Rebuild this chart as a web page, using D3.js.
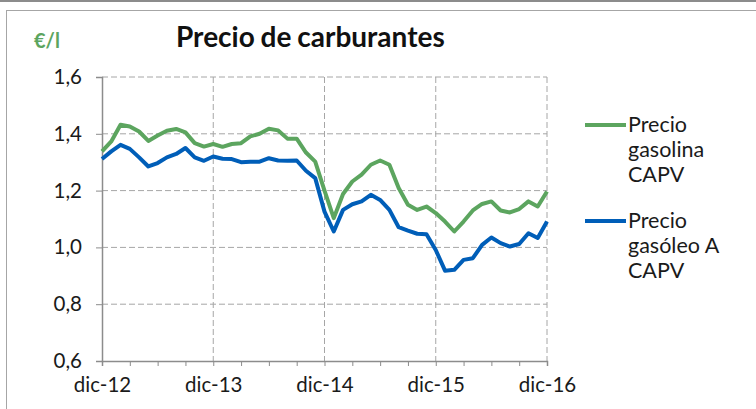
<!DOCTYPE html>
<html>
<head>
<meta charset="utf-8">
<script src="https://cdn.jsdelivr.net/npm/d3@7"></script>
<style>
  html, body { margin: 0; padding: 0; background: #fff; }
  svg { display: block; font-family: Lato, "Open Sans", sans-serif; }
</style>
</head>
<body>
<div id="chart"></div>
<script>
// month labels, dic-12 .. dic-16
const monthNames = ["dic", "ene", "feb", "mar", "abr", "may", "jun", "jul", "ago", "sep", "oct", "nov"];
const categories = [];
for (let i = 0; i <= 48; i++) {
    const yr = 12 + Math.ceil(i / 12);
    categories.push(monthNames[i % 12] + "-" + (i % 12 === 0 ? 12 + i / 12 : yr));
}

const gasolina = [1.338, 1.373, 1.432, 1.426, 1.408, 1.375, 1.394, 1.411, 1.417, 1.405, 1.367, 1.355,
                  1.364, 1.354, 1.364, 1.367, 1.391, 1.400, 1.418, 1.412, 1.383, 1.383, 1.334, 1.302,
                  1.200, 1.103, 1.188, 1.232, 1.256, 1.291, 1.306, 1.291, 1.209, 1.150, 1.132, 1.144,
                  1.121, 1.091, 1.056, 1.091, 1.130, 1.153, 1.162, 1.130, 1.123, 1.135, 1.162, 1.144,
                  1.197];
const gasoleo = [1.311, 1.338, 1.361, 1.347, 1.317, 1.285, 1.297, 1.317, 1.329, 1.350, 1.317, 1.305,
                 1.320, 1.312, 1.311, 1.300, 1.302, 1.302, 1.314, 1.306, 1.305, 1.306, 1.270, 1.244,
                 1.126, 1.056, 1.132, 1.152, 1.162, 1.185, 1.167, 1.132, 1.071, 1.059, 1.048, 1.046,
                 0.991, 0.918, 0.921, 0.956, 0.962, 1.009, 1.035, 1.015, 1.003, 1.012, 1.050, 1.033,
                 1.091];

const series = [
    { name: ["Precio", "gasolina", "CAPV"], values: gasolina, color: "#5ca55f" },
    { name: ["Precio", "gasóleo A", "CAPV"], values: gasoleo, color: "#005eb8" }
];
const yTicks = [0.6, 0.8, 1.0, 1.2, 1.4, 1.6];

const width = 756, height = 409;
const margin = { left: 102, right: 209, top: 77, bottom: 48 };

const svg = d3.select("#chart").append("svg")
    .attr("width", width)
    .attr("height", height);

// outer frame
svg.append("line").attr("x1", 0).attr("x2", width).attr("y1", 1).attr("y2", 1)
    .attr("stroke", "#8c8c8c").attr("stroke-width", 2);
svg.append("rect").attr("x", 6.5).attr("y", 10.5).attr("width", width).attr("height", height)
    .attr("fill", "none").attr("stroke", "#a6a6a6");

const x = d3.scaleLinear()
    .domain([0, categories.length - 1])
    .range([margin.left, width - margin.right]);
const y = d3.scaleLinear()
    .domain([0.6, 1.6])
    .range([height - margin.bottom, margin.top]);

const fmt = v => d3.format(".1f")(v).replace(".", ",");

// grid lines
svg.append("g")
    .selectAll("line")
    .data(yTicks.filter(d => d > 0.6))
    .join("line")
    .attr("x1", x(0)).attr("x2", x(48))
    .attr("y1", d => y(d)).attr("y2", d => y(d))
    .attr("stroke", "#a6a6a6").attr("stroke-dasharray", "6,3");
svg.append("g")
    .selectAll("line")
    .data(d3.range(12, 49, 12))
    .join("line")
    .attr("x1", d => x(d)).attr("x2", d => x(d))
    .attr("y1", y(1.6)).attr("y2", y(0.6))
    .attr("stroke", "#a6a6a6").attr("stroke-dasharray", "6,3");

// y axis
const yAxis = svg.append("g")
    .attr("transform", `translate(${x(0)},0)`)
    .call(d3.axisLeft(y).tickValues(yTicks).tickFormat(fmt).tickSize(6).tickPadding(14));
// x axis with quarterly ticks, yearly labels
const xAxis = svg.append("g")
    .attr("transform", `translate(0,${y(0.6)})`)
    .call(d3.axisBottom(x).tickValues(d3.range(0, 49, 3))
        .tickFormat(d => d % 12 === 0 ? categories[d] : "")
        .tickSize(5).tickPadding(11));

[yAxis, xAxis].forEach(a => {
    a.select(".domain").attr("stroke", "#8c8c8c").attr("stroke-width", 1.5);
    a.selectAll(".tick line").attr("stroke", "#8c8c8c");
    a.selectAll("text").attr("fill", "#1a1a1a").style("font-size", "20.5px").style("font-family", "Lato");
});

// lines
const line = d3.line()
    .x((d, i) => x(i))
    .y(d => y(d));

svg.append("g")
    .selectAll("path")
    .data(series)
    .join("path")
    .attr("d", d => line(d.values))
    .attr("fill", "none")
    .attr("stroke", d => d.color)
    .attr("stroke-width", 4)
    .attr("stroke-linejoin", "round");

// legend
const legend = svg.append("g")
    .selectAll("g")
    .data(series)
    .join("g")
    .attr("transform", (d, i) => `translate(585,${125 + i * 96})`);
legend.append("line")
    .attr("x1", 0).attr("x2", 41)
    .attr("stroke", d => d.color).attr("stroke-width", 4);
legend.append("text")
    .attr("x", 43)
    .attr("y", 7)
    .style("font-size", "21.5px")
    .attr("fill", "#1a1a1a")
    .selectAll("tspan")
    .data(d => d.name)
    .join("tspan")
    .attr("x", 43)
    .attr("dy", (d, i) => i === 0 ? 0 : 25)
    .text(d => d);

// titles
svg.append("text")
    .attr("x", 176).attr("y", 47)
    .style("font-size", "28px").style("font-weight", "bold")
    .style("word-spacing", "-1px")
    .attr("fill", "#111")
    .text("Precio de carburantes");
svg.append("text")
    .attr("x", 34).attr("y", 48)
    .style("font-size", "20px").style("font-weight", "bold")
    .attr("fill", "#5ca55f")
    .text("€/l");
</script>
</body>
</html>
